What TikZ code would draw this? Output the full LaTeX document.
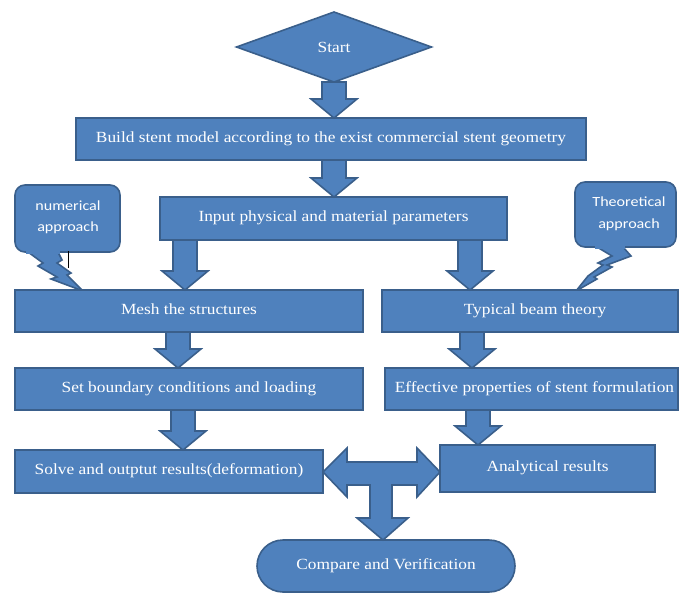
\documentclass[tikz,border=0pt]{standalone}
\usepackage{fontspec}
\setmainfont{Liberation Serif}
\newfontfamily\calfont{Carlito}
\usetikzlibrary{shapes.geometric,calc}
\definecolor{bfill}{HTML}{4F81BD}
\definecolor{bline}{HTML}{3A5F8B}
\newcommand\tx[1]{\scalebox{1.12}[1]{#1}}
\newcommand\cx[1]{\scalebox{1.15}[1]{#1}}
\newcommand\varr[3]{\filldraw[blk] let \p1=(#2), \p2=(#3) in
  (#1pt-12pt,\y1) -- (#1pt+12pt,\y1) -- (#1pt+12pt,\y2+19pt) -- (#1pt+23pt,\y2+19pt)
  -- (#1pt,\y2) -- (#1pt-23pt,\y2+19pt) -- (#1pt-12pt,\y2+19pt) -- cycle;}
\begin{document}
\begin{tikzpicture}[x=1pt,y=-1pt,
  blk/.style={fill=bfill,draw=bline,line width=1.6pt,line join=miter},
  box/.style={rectangle,fill=bfill,draw=bline,line width=1.6pt,text=white,
    inner sep=0pt,outer sep=0pt,font=\fontsize{15.5}{18}\selectfont},
  callout/.style={fill=bfill,draw=bline,line width=1.6pt,rounded corners=10pt},
  ctext/.style={text=white,font=\calfont\fontsize{14}{16}\selectfont,inner sep=0pt}]
\useasboundingbox (0,0) rectangle (680,594);
% callouts
\filldraw[callout] (15,185) rectangle (120,252);
\filldraw[blk] (28,252) -- (43,263) -- (38,266) -- (57,277) -- (51,279) -- (83,291)
  -- (67,275) -- (71,273) -- (57,263) -- (62,260) -- (58,252) -- cycle;
\fill[bfill] (26,248) rectangle (60,253.5);
\node[ctext] (num1) at (68,206) {\cx{numerical}};
\node[ctext] (num2) at (68,228) {\cx{approach}};
\draw[black,line width=0.6pt] (68,251) -- (68,268);
\filldraw[callout] (575,182) rectangle (676,247);
\filldraw[blk] (597,247) -- (612,256) -- (598,263) -- (603,265) -- (588,276) -- (576,291)
  -- (597,279) -- (594,277) -- (612,267) -- (607,265) -- (631,256) -- (623,247) -- cycle;
\fill[bfill] (595,243) rectangle (625,248.5);
\node[ctext] (th1) at (629,202) {\cx{Theoretical}};
\node[ctext] (th2) at (629,225) {\cx{approach}};
% nodes
\node[diamond,fill=bfill,draw=bline,line width=1.6pt,inner sep=0pt,outer sep=0pt,
  minimum width=195pt,minimum height=70pt,text=white,font=\fontsize{15.5}{18}\selectfont]
  (start) at (334,47) {\tx{Start}};
\node[box,minimum width=510pt,minimum height=42pt] (b1) at (331,139)
  {\raisebox{3pt}{\tx{Build stent model according to the exist commercial stent geometry}}};
\node[box,minimum width=347pt,minimum height=43pt] (b2) at (333.5,218.5)
  {\raisebox{4pt}{\tx{Input physical and material parameters}}};
\node[box,minimum width=348pt,minimum height=42pt] (mesh) at (189,311)
  {\raisebox{4pt}{\tx{Mesh the structures}}};
\node[box,minimum width=296pt,minimum height=42pt] (beam) at (530,311)
  {\raisebox{4pt}{\hspace{10pt}\tx{Typical beam theory}}};
\node[box,minimum width=348pt,minimum height=42pt] (bc) at (189,389)
  {\raisebox{3pt}{\tx{Set boundary conditions and loading}}};
\node[box,minimum width=293pt,minimum height=42pt] (eff) at (531.5,389)
  {\raisebox{3pt}{\hspace{6pt}\tx{Effective properties of stent formulation}}};
\node[box,minimum width=308pt,minimum height=43pt] (solve) at (169,471.5)
  {\raisebox{4pt}{\tx{Solve and outptut results(deformation)}}};
\node[box,minimum width=215pt,minimum height=47pt] (anal) at (547.5,468.5)
  {\raisebox{4pt}{\tx{Analytical results}}};
\node[box,rounded corners=26pt,minimum width=258pt,minimum height=52pt] (cmp) at (386,566)
  {\tx{Compare and Verification}};
% block arrows
\varr{334}{start.south}{b1.north}
\varr{334}{b1.south}{b2.north}
\varr{185}{b2.south -| 185,0}{mesh.north -| 185,0}
\varr{470}{b2.south -| 470,0}{beam.north -| 470,0}
\varr{178}{mesh.south -| 178,0}{bc.north -| 178,0}
\varr{472}{beam.south -| 472,0}{eff.north -| 472,0}
\varr{183}{bc.south -| 183,0}{solve.north -| 183,0}
\varr{478}{eff.south -| 478,0}{anal.north -| 478,0}
% T arrow
\filldraw[blk] (solve.east |- 0,472) -- (347,448) -- (347,462) -- (417,462) -- (417,448)
  -- (anal.west |- 0,472) -- (417,497) -- (417,485) -- (392,485) -- (392,518) -- (408,518)
  -- (cmp.north -| 383,0) -- (357,518) -- (370,518) -- (370,485) -- (347,485) -- (347,497) -- cycle;
\end{tikzpicture}
\end{document}
